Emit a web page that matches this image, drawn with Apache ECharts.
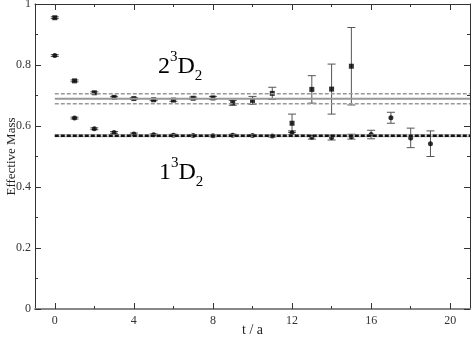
<!DOCTYPE html>
<html>
<head>
<meta charset="utf-8">
<script src="https://cdn.jsdelivr.net/npm/echarts@6/dist/echarts.min.js"></script>
<style>
  html, body { margin: 0; padding: 0; background: #fff; }
  #chart { width: 471px; height: 338px; }
</style>
</head>
<body>
<div id="chart"></div>
<script>
// 2^3D_2 effective mass, t = 0..15
const tUpper = [0, 1, 2, 3, 4, 5, 6, 7, 8, 9, 10, 11, 12, 13, 14, 15]
const mUpper = [0.955, 0.748, 0.709, 0.694, 0.690, 0.686, 0.685, 0.691, 0.692, 0.676, 0.684, 0.707, 0.609, 0.720, 0.721, 0.796]
const eUpper = [0.003, 0.003, 0.003, 0.003, 0.003, 0.003, 0.004, 0.004, 0.005, 0.008, 0.013, 0.020, 0.030, 0.045, 0.082, 0.127]

// 1^3D_2 effective mass, t = 0..19
const tLower = [0, 1, 2, 3, 4, 5, 6, 7, 8, 9, 10, 11, 12, 13, 14, 15, 16, 17, 18, 19]
const mLower = [0.831, 0.626, 0.591, 0.579, 0.574, 0.571, 0.570, 0.569, 0.568, 0.570, 0.569, 0.567, 0.578, 0.563, 0.562, 0.565, 0.572, 0.627, 0.561, 0.542]
const eLower = [0.003, 0.003, 0.003, 0.003, 0.003, 0.003, 0.003, 0.003, 0.003, 0.003, 0.003, 0.003, 0.006, 0.006, 0.008, 0.008, 0.014, 0.018, 0.032, 0.042]

// fits: [central, low, high]
const fitUpper = [0.689, 0.673, 0.706]
const fitLower = [0.568, 0.565, 0.571]
const fitRange = [0, 21]

const xMajor = [0, 4, 8, 12, 16, 20]
const xMinor = [2, 6, 10, 14, 18]

const serif = 'Liberation Serif'

function points(ts, ms) {
  return ts.map((t, i) => [t, ms[i]])
}
function bars(ts, ms, es) {
  return ts.map((t, i) => [t, ms[i] - es[i], ms[i] + es[i]])
}
function hline(v) {
  return [[fitRange[0], v], [fitRange[1], v]]
}

function errorBar(params, api) {
  const lo = api.coord([api.value(0), api.value(1)])
  const hi = api.coord([api.value(0), api.value(2)])
  const w = 4
  const style = { stroke: '#555', lineWidth: 1 }
  return {
    type: 'group',
    children: [
      { type: 'line', shape: { x1: lo[0], y1: lo[1], x2: hi[0], y2: hi[1] }, style: style },
      { type: 'line', shape: { x1: lo[0] - w, y1: lo[1], x2: lo[0] + w, y2: lo[1] }, style: style },
      { type: 'line', shape: { x1: hi[0] - w, y1: hi[1], x2: hi[0] + w, y2: hi[1] }, style: style }
    ]
  }
}

// x axis: ticks from customValues, since the range starts at -1
function xAx(grid, pos, vals, len, showLabel, showLine, lineColor) {
  return {
    type: 'value', gridIndex: grid, position: pos, min: -1, max: 21,
    axisLine: { show: showLine, onZero: false, lineStyle: { color: lineColor, width: pos === 'bottom' ? 2 : 1 } },
    axisTick: { show: true, inside: true, length: len, customValues: vals, lineStyle: { color: '#333' } },
    axisLabel: { show: showLabel, customValues: vals, margin: 6, fontFamily: serif, fontSize: 12, color: '#333' },
    splitLine: { show: false }
  }
}

function yAx(grid, pos, show) {
  return {
    type: 'value', gridIndex: grid, position: pos, min: 0, max: 1, interval: 0.2,
    axisLine: { show: show, onZero: false, lineStyle: { color: '#333' } },
    axisTick: { show: show, inside: true, length: 6, lineStyle: { color: '#333' } },
    minorTick: { show: show, splitNumber: 2, length: 3, lineStyle: { color: '#333' } },
    axisLabel: { show: show && pos === 'left', margin: 4, fontFamily: serif, fontSize: 12, color: '#333' },
    splitLine: { show: false }
  }
}

const chart = echarts.init(document.getElementById('chart'))

const rich = {
  n: { fontFamily: serif, fontSize: 24, color: '#000', verticalAlign: 'middle', lineHeight: 34 },
  s: { fontFamily: serif, fontSize: 15, color: '#000', verticalAlign: 'top', lineHeight: 34 },
  b: { fontFamily: serif, fontSize: 15, color: '#000', verticalAlign: 'bottom', lineHeight: 34 }
}

const box = { left: 35, right: 1, top: 4, bottom: 29, outerBoundsMode: 'none' }
const yMain = yAx(0, 'left', true)
yMain.name = 'Effective Mass'
yMain.nameLocation = 'middle'
yMain.nameGap = 17
yMain.nameMoveOverlap = false
yMain.nameTextStyle = { fontFamily: serif, fontSize: 13, color: '#222' }
const xMain = xAx(0, 'bottom', xMajor, 6, true, true, '#888')
xMain.name = 't / a'
xMain.nameLocation = 'middle'
xMain.nameGap = 14
xMain.nameMoveOverlap = false
xMain.nameTextStyle = { fontFamily: serif, fontSize: 14, color: '#222' }

chart.setOption({
  animation: false,
  grid: [box, box],
  xAxis: [
    xMain,
    xAx(0, 'top', xMajor, 6, false, true, '#333'),
    xAx(1, 'bottom', xMinor, 3, false, false, '#888'),
    xAx(1, 'top', xMinor, 3, false, false, '#333')
  ],
  yAxis: [
    yMain,
    yAx(0, 'right', true),
    yAx(1, 'left', false)
  ],
  graphic: [
    { type: 'text', left: 158, top: 50, style: { text: '{n|2}{s|3}{n|D}{b|2}', rich: rich } },
    { type: 'text', left: 159, top: 156, style: { text: '{n|1}{s|3}{n|D}{b|2}', rich: rich } }
  ],
  series: [
    { type: 'line', data: hline(fitUpper[0]), symbol: 'none', silent: true, lineStyle: { color: '#999', width: 2 } },
    { type: 'line', data: hline(fitUpper[1]), symbol: 'none', silent: true, lineStyle: { color: '#999', width: 1.5, type: [4, 2] } },
    { type: 'line', data: hline(fitUpper[2]), symbol: 'none', silent: true, lineStyle: { color: '#999', width: 1.5, type: [4, 2] } },
    { type: 'line', data: hline(fitLower[1]), symbol: 'none', silent: true, lineStyle: { color: '#999', width: 1 } },
    { type: 'line', data: hline(fitLower[2]), symbol: 'none', silent: true, lineStyle: { color: '#999', width: 1 } },
    { type: 'line', data: hline(fitLower[0]), symbol: 'none', silent: true, lineStyle: { color: '#111', width: 2.5, type: [4, 2] } },
    { type: 'custom', renderItem: errorBar, data: bars(tUpper, mUpper, eUpper), encode: { x: 0, y: [1, 2] }, silent: true },
    { type: 'custom', renderItem: errorBar, data: bars(tLower, mLower, eLower), encode: { x: 0, y: [1, 2] }, silent: true },
    { type: 'scatter', data: points(tUpper, mUpper), symbol: 'rect', symbolSize: 5, itemStyle: { color: '#000' } },
    { type: 'scatter', data: points(tLower, mLower), symbol: 'circle', symbolSize: 5, itemStyle: { color: '#000' } }
  ]
})
</script>
</body>
</html>
